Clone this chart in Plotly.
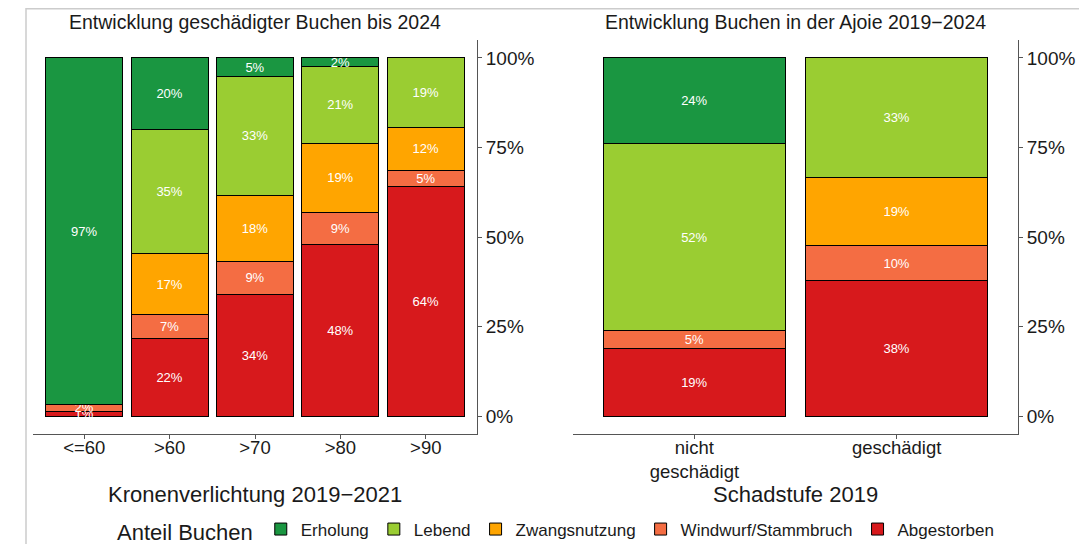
import plotly.graph_objects as go

W, H = 1087, 544
OFF = 8  # the page body adds an 8px margin around the figure

# Kategorien
kronen_klassen = ["<=60", ">60", ">70", ">80", ">90"]
schadstufen = ["nicht geschädigt", "geschädigt"]
schadstufen_ticks = ["nicht<br>geschädigt", "geschädigt"]
prozent_ticks = [0, 25, 50, 75, 100]
prozent_labels = ["0%", "25%", "50%", "75%", "100%"]

# Stapelreihenfolge von unten nach oben
anteile = ["Abgestorben", "Windwurf/Stammbruch", "Zwangsnutzung", "Lebend", "Erholung"]
farben = {
    "Erholung": "#1A9641",
    "Lebend": "#9ACD32",
    "Zwangsnutzung": "#FFA500",
    "Windwurf/Stammbruch": "#F46D43",
    "Abgestorben": "#D7191C",
}

# Anteil in % je Kronenverlichtung 2019-2021
krone_abgestorben = [1.3, 21.8, 34.0, 48.0, 64.0]
krone_windwurf = [2.0, 6.6, 9.2, 8.9, 4.7]
krone_zwang = [None, 16.9, 18.4, 19.3, 12.0]
krone_lebend = [None, 34.6, 33.2, 21.4, 19.3]
krone_erholung = [96.7, 20.1, 5.2, 2.4, None]

# Anteil in % je Schadstufe 2019 (Ajoie)
ajoie_abgestorben = [18.8, 37.8]
ajoie_windwurf = [5.0, 9.8]
ajoie_zwang = [None, 19.0]
ajoie_lebend = [52.2, 33.4]
ajoie_erholung = [24.0, None]

krone = dict(zip(anteile, [krone_abgestorben, krone_windwurf, krone_zwang, krone_lebend, krone_erholung]))
ajoie = dict(zip(anteile, [ajoie_abgestorben, ajoie_windwurf, ajoie_zwang, ajoie_lebend, ajoie_erholung]))

FONT = "Liberation Sans, Arial, sans-serif"


def px_x(v):
    return (v - OFF) / W


def px_y(v):
    return 1 - (v - OFF) / H


fig = go.Figure()
for name in anteile:
    common = dict(
        name=name,
        legendgroup=name,
        marker={"color": farben[name], "line": {"color": "black", "width": 1}},
        texttemplate="%{y:.0f}%",
        textposition="inside",
        insidetextanchor="middle",
        constraintext="none",
        textangle=0,
        textfont={"color": "white", "size": 13, "family": FONT},
    )
    fig.add_trace(go.Bar(x=kronen_klassen, y=krone[name], xaxis="x", yaxis="y", showlegend=True, **common))
    fig.add_trace(go.Bar(x=schadstufen, y=ajoie[name], xaxis="x2", yaxis="y2", showlegend=False, **common))

axis_line = dict(showline=True, linecolor="#555555", linewidth=1, ticks="outside", ticklen=4,
                 tickcolor="#555555", showgrid=False, zeroline=False, automargin=False,
                 tickfont={"size": 19, "color": "#1a1a1a", "family": FONT})
y_common = dict(range=[-5, 105], tickvals=prozent_ticks, ticktext=prozent_labels, side="right")
x_common = dict(ticklabelstandoff=-7, tickfont={"size": 18.5, "color": "#1a1a1a", "family": FONT})

fig.update_layout(
    width=W,
    height=H,
    barmode="stack",
    bargap=0.1,
    paper_bgcolor="white",
    plot_bgcolor="white",
    margin={"l": 0, "r": 0, "t": 0, "b": 0},
    font={"family": FONT, "color": "#1a1a1a"},
    xaxis={**axis_line, **x_common, "domain": [px_x(33), px_x(477)], "anchor": "y",
           "range": [-0.6, 4.6], "type": "category"},
    yaxis={**axis_line, **y_common, "domain": [px_y(434), px_y(40)], "anchor": "x"},
    xaxis2={**axis_line, **x_common, "domain": [px_x(573), px_x(1018)], "anchor": "y2",
            "range": [-0.6, 1.6], "type": "category",
            "tickvals": schadstufen, "ticktext": schadstufen_ticks},
    yaxis2={**axis_line, **y_common, "domain": [px_y(434), px_y(40)], "anchor": "x2"},
    legend={
        "orientation": "h",
        "x": px_x(115),
        "xanchor": "left",
        "y": px_y(531),
        "yanchor": "middle",
        "traceorder": "reversed",
        "title": {"text": "Anteil Buchen", "side": "left", "font": {"size": 22, "family": FONT}},
        "font": {"size": 17, "family": FONT},
        "bgcolor": "rgba(0,0,0,0)",
    },
    shapes=[
        {"type": "rect", "xref": "paper", "yref": "paper",
         "x0": px_x(26), "x1": 1.05, "y0": -0.05, "y1": px_y(8.8),
         "line": {"color": "#cccccc", "width": 1.5}, "layer": "below"},
    ],
)

titles = [
    ("Entwicklung geschädigter Buchen bis 2024", 255, 22, 19.5),
    ("Entwicklung Buchen in der Ajoie 2019\u22122024", 795, 22, 19.5),
    ("Kronenverlichtung 2019\u22122021", 255, 494, 22),
    ("Schadstufe 2019", 795, 494, 22),
]
for text, cx, cy, size in titles:
    fig.add_annotation(text=text, x=px_x(cx), y=px_y(cy), xref="paper", yref="paper",
                       xanchor="center", yanchor="middle", showarrow=False,
                       font={"size": size, "family": FONT, "color": "#1a1a1a"})

fig.write_html("out.html")
